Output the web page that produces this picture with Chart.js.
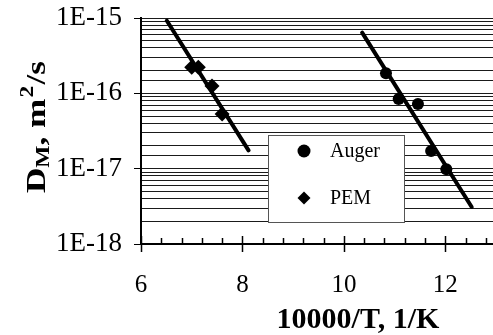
<!DOCTYPE html>
<html>
<head>
<meta charset="utf-8">
<script src="https://cdn.jsdelivr.net/npm/chart.js@4/dist/chart.umd.min.js"></script>
<style>
  html, body { margin: 0; padding: 0; background: #fff; }
  #wrap { width: 493px; height: 335px; }
</style>
</head>
<body>
<div id="wrap"><canvas id="c" width="493" height="335"></canvas></div>
<script>
// ---- data ----
const augerX = [10.83, 11.08, 11.46, 11.72, 12.02];
const augerY = [1.85e-16, 8.4e-17, 7.2e-17, 1.72e-17, 9.8e-18];
const pemX = [7.00, 7.13, 7.40, 7.60];
const pemY = [2.22e-16, 2.22e-16, 1.25e-16, 5.3e-17];
const augerFitX = [10.36, 12.52];
const augerFitY = [6.4e-16, 3.1e-18];
const pemFitX = [6.51, 8.12];
const pemFitY = [9.2e-16, 1.75e-17];
const xTickLabels = ['6', '8', '10', '12'];
const yTickLabels = ['1E-18', '1E-17', '1E-16', '1E-15'];
const seriesNames = ['Auger', 'PEM'];
const xTitle = '10000/T, 1/K';

const pts = (xs, ys) => xs.map((x, i) => ({ x: x, y: ys[i] }));
const FONT = '"Liberation Serif", "Times New Roman", serif';

function isMajorX(v) {
  const r = Math.round(v);
  return Math.abs(v - r) < 1e-6 && xTickLabels.includes(String(r));
}
function yLabel(v) {
  const e = Math.log10(v);
  const r = Math.round(e);
  if (Math.abs(e - r) < 1e-6) {
    const s = '1E' + r;
    if (yTickLabels.includes(s)) return s;
  }
  return '';
}

const decor = {
  id: 'decor',
  afterDatasetsDraw(chart) {
    const ctx = chart.ctx;
    const xs = chart.scales.x;
    const ca = chart.chartArea;
    ctx.save();
    // x tick marks
    ctx.strokeStyle = '#000';
    ctx.lineWidth = 1.5;
    xs.ticks.forEach(t => {
      const px = Math.round(xs.getPixelForValue(t.value)) + 0.5;
      ctx.beginPath();
      if (isMajorX(t.value)) {
        ctx.moveTo(px, ca.bottom - 8);
        ctx.lineTo(px, ca.bottom + 8);
      } else {
        ctx.moveTo(px, ca.bottom - 6);
        ctx.lineTo(px, ca.bottom);
      }
      ctx.stroke();
    });
    // legend box
    const lx = 268, ly = 135, lw = 136, lh = 87;
    ctx.fillStyle = '#fff';
    ctx.fillRect(lx, ly, lw, lh);
    ctx.strokeStyle = '#555';
    ctx.lineWidth = 1;
    ctx.strokeRect(lx + 0.5, ly + 0.5, lw, lh);
    const items = [
      { ds: chart.data.datasets[0], cy: 151 },
      { ds: chart.data.datasets[1], cy: 198 }
    ];
    ctx.font = '20px ' + FONT;
    ctx.textAlign = 'left';
    ctx.textBaseline = 'middle';
    items.forEach(it => {
      ctx.fillStyle = '#000';
      ctx.strokeStyle = '#000';
      Chart.helpers.drawPoint(ctx, {
        pointStyle: it.ds.pointStyle,
        radius: 6.5,
        borderWidth: 0
      }, 304, it.cy);
      ctx.fillStyle = '#000';
      ctx.fillText(it.ds.label, 330, it.cy + 1);
    });
    ctx.restore();
  },
  afterDraw(chart) {
    const ctx = chart.ctx;
    ctx.save();
    ctx.fillStyle = '#000';
    // x title
    ctx.font = 'bold 30px ' + FONT;
    ctx.textAlign = 'center';
    ctx.textBaseline = 'alphabetic';
    ctx.fillText(xTitle, 358, 328);
    // y title: D_M, m^2/s rotated
    ctx.translate(45, 193);
    ctx.rotate(-Math.PI / 2);
    ctx.scale(1.3, 1);
    ctx.textAlign = 'left';
    let x = 0;
    const big = 'bold 27px ' + FONT, small = 'bold 18px ' + FONT;
    ctx.font = big; ctx.fillText('D', x, 0); x += ctx.measureText('D').width;
    ctx.font = small; ctx.fillText('M', x, 4); x += ctx.measureText('M').width;
    ctx.font = big; ctx.fillText(', m', x, 0); x += ctx.measureText(', m').width + 1;
    ctx.font = small; ctx.fillText('2', x, -12); x += ctx.measureText('2').width + 1;
    ctx.font = big; ctx.fillText('/s', x, 0);
    ctx.restore();
  }
};

new Chart(document.getElementById('c'), {
  type: 'scatter',
  data: {
    datasets: [
      { label: seriesNames[0], data: pts(augerX, augerY), pointStyle: 'circle', pointRadius: 6,
        backgroundColor: '#000', borderColor: '#000', borderWidth: 0, order: 0 },
      { label: seriesNames[1], data: pts(pemX, pemY), pointStyle: 'rectRot', pointRadius: 7.5,
        backgroundColor: '#000', borderColor: '#000', borderWidth: 0, order: 0 },
      { label: 'Auger fit', data: pts(augerFitX, augerFitY), showLine: true, pointRadius: 0,
        borderColor: '#000', borderWidth: 4, borderCapStyle: 'round', order: 1 },
      { label: 'PEM fit', data: pts(pemFitX, pemFitY), showLine: true, pointRadius: 0,
        borderColor: '#000', borderWidth: 4, borderCapStyle: 'round', order: 1 }
    ]
  },
  options: {
    responsive: false,
    devicePixelRatio: 1,
    animation: false,
    layout: { autoPadding: false, padding: { top: 18, right: 0, left: 0, bottom: 0 } },
    plugins: { legend: { display: false }, tooltip: { enabled: false } },
    scales: {
      x: {
        type: 'linear',
        min: 6, max: 12.94,
        afterFit(s) { s.height = 91; s.paddingLeft = 0; s.paddingRight = 0; },
        grid: { display: false },
        border: { display: true, color: '#000', width: 2 },
        ticks: {
          stepSize: 0.4,
          includeBounds: false,
          autoSkip: false,
          maxRotation: 0,
          padding: 18,
          color: '#000',
          font: { family: FONT, size: 25 },
          callback: (v) => isMajorX(v) ? String(Math.round(v)) : ''
        }
      },
      y: {
        type: 'logarithmic',
        min: 1e-18, max: 1e-15,
        afterFit(s) { s.width = 141; s.paddingTop = 0; s.paddingBottom = 0; },
        grid: {
          color: '#1a1a1a',
          lineWidth: 1,
          drawTicks: true,
          tickLength: 7,
          tickColor: (c) => (c.tick && yLabel(c.tick.value)) ? '#000' : 'rgba(0,0,0,0)'
        },
        border: { display: true, color: '#000', width: 2 },
        ticks: {
          autoSkip: false,
          padding: 12,
          color: '#000',
          font: { family: FONT, size: 27 },
          callback: (v) => yLabel(v)
        }
      }
    }
  },
  plugins: [decor]
});
</script>
</body>
</html>
